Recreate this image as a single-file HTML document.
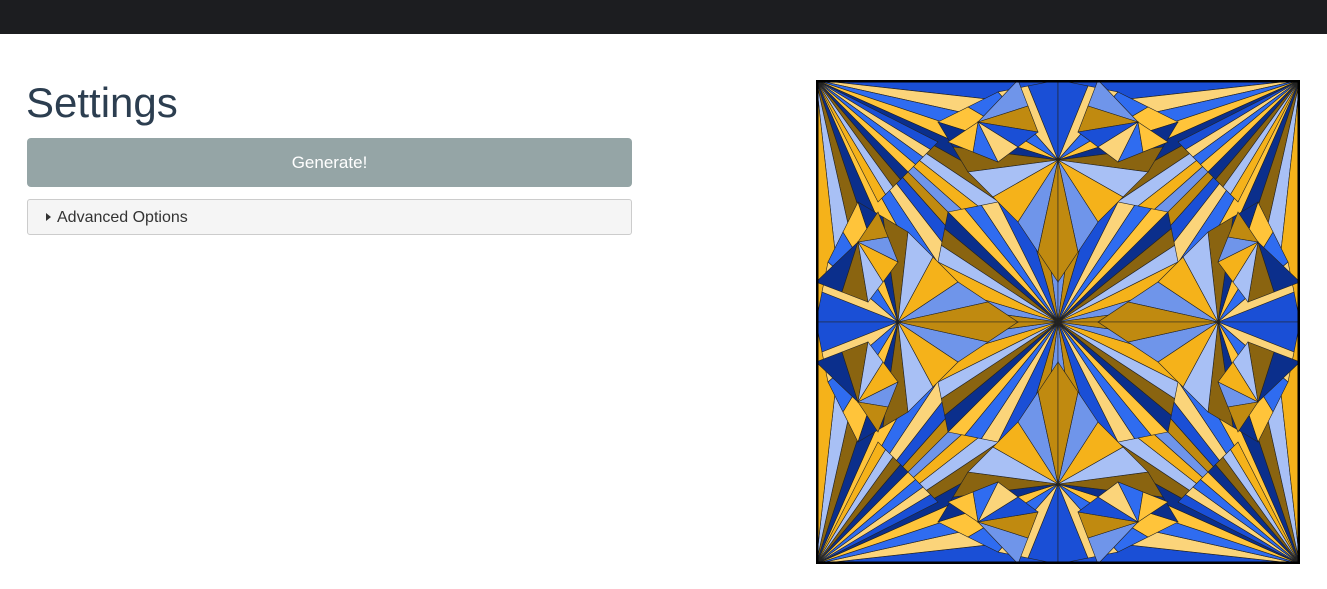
<!DOCTYPE html>
<html><head><meta charset="utf-8"><style>
html,body{margin:0;padding:0;width:1327px;height:589px;overflow:hidden;background:#fff;font-family:"Liberation Sans",sans-serif}
.nav{position:absolute;left:0;top:0;width:1327px;height:34px;background:#1c1d20}
h1{position:absolute;left:26px;top:79px;margin:0;font-weight:400;font-size:42px;color:#2c3e50;letter-spacing:0}
.btn{position:absolute;left:27px;top:138px;width:605px;height:49px;background:#95a5a6;border-radius:4px;color:#fff;font-size:17px;text-align:center;line-height:49px}
.adv{position:absolute;left:27px;top:199px;width:603px;height:34px;background:#f5f5f5;border:1px solid #ccc;border-radius:3px;color:#333;font-size:16px;line-height:36px}
.adv span.tri{display:inline-block;width:0;height:0;border-left:5px solid #333;border-top:4px solid transparent;border-bottom:4px solid transparent;margin:0 6px 1px 18px}
svg{position:absolute;left:816px;top:80px}
</style></head><body>
<div class="nav"></div>
<h1>Settings</h1>
<div class="btn">Generate!</div>
<div class="adv"><span class="tri"></span>Advanced Options</div>
<svg id="art" width="484" height="484" viewBox="0 0 484 484">
<rect x="0" y="0" width="484" height="484" fill="#111"/>
<g id="tris"></g>
<rect x="1" y="1" width="482" height="482" fill="none" stroke="#000" stroke-width="3"/>
</svg>
<script>
const pal=["#1a4fd6","#f5b21a","#0b2f8c","#fbd47a","#6f95ea","#8a6410","#2f6cf0","#c08a10","#a8c0f5","#ffc43a"];
const g=document.getElementById('tris');
const C=242;
let k=0;
function tri(a,b,c){
  const fills=[[1,1],[-1,1],[1,-1],[-1,-1]];
  const col=pal[k%pal.length];k+=3;
  for(const [sx,sy] of fills){
    const p=document.createElementNS('http://www.w3.org/2000/svg','polygon');
    p.setAttribute('points',[a,b,c].map(q=>(C+sx*q[0])+','+(C+sy*q[1])).join(' '));
    p.setAttribute('fill',col);p.setAttribute('stroke','#222');p.setAttribute('stroke-width','0.6');
    
    
    g.appendChild(p);
  }
}
function fan(h,path,n){
  const pts=[];
  for(let s=0;s<path.length-1;s++){for(let i=0;i<n;i++){const t=i/n;pts.push([path[s][0]+(path[s+1][0]-path[s][0])*t,path[s][1]+(path[s+1][1]-path[s][1])*t]);}}
  pts.push(path[path.length-1]);
  for(let i=0;i<pts.length-1;i++)tri(h,pts[i],pts[i+1]);
}
fan([-242,-242],[[0,-242],[0,0],[-242,0]],9);
fan([0,0],[[0,-162],[-60,-120],[-110,-110],[-120,-60],[-160,0]],3);
fan([0,-162],[[0,-242],[-60,-230],[-120,-200],[-90,-150],[-40,-100],[0,-40]],2);
fan([-160,0],[[-242,0],[-230,-60],[-200,-120],[-150,-90],[-100,-40],[-40,0]],2);
fan([-242,-242],[[-120,-180],[-150,-150],[-180,-120]],4);
fan([-80,-200],[[-40,-242],[-20,-190],[-60,-160],[-110,-180]],2);
fan([-200,-80],[[-242,-40],[-190,-20],[-160,-60],[-180,-110]],2);
</script>
</body></html>
